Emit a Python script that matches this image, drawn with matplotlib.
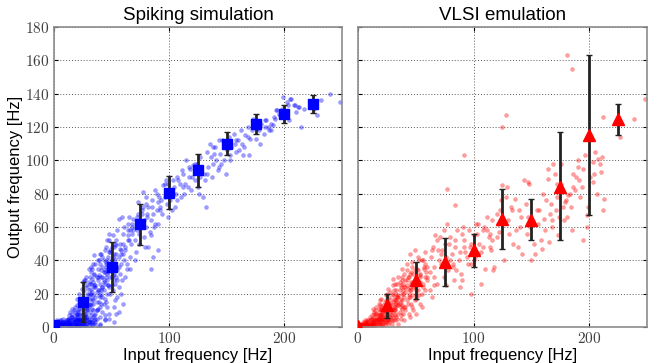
import matplotlib
matplotlib.use("Agg")
import matplotlib.pyplot as plt
from matplotlib.ticker import FuncFormatter

plt.rcParams['font.family'] = ['Liberation Sans', 'DejaVu Sans']
plt.rcParams['mathtext.fontset'] = 'cm'

# ---------------- Spiking simulation (left) ----------------
sim_x = [0,1,2,3,4,5,6,7,8,9,10,11,12,13,14,15,16,17,18,19,20,21,22,23,24,25,
         1,2,3,4,5,6,7,8,9,10,11,12,13,14,15,16,17,18,19,20,21,22,23,24,
         0.5,2.5,4.5,6.5,8.5,10.5,12.5,14.5,16.5,18.5,20.5,22.5,24.5,26,27,28,
         3,5,7,9,11,13,15,17,19,21,23,25,27,29,2,6,10,14,18,22,26,30,4,8,12,16,20,24,28,32,
         1,3,5,7,9,11,13,15,17,19,21,23,2,4,6,8,10,12,14,16,18,20,22,24,
         15,16,17,18,19,20,21,22,23,24,25,26,27,28,29,30,31,32,33,34,
         18,20,22,24,26,28,30,32,34,21,23,25,27,29,31,33,35,26,28,30,
         12,13,14,16,17,19,27,29,31,33,35,36,37,38,30,32,
         25,26,27,28,29,30,31,32,33,34,35,36,37,38,39,40,41,42,43,44,
         28,30,32,34,36,38,40,42,44,27,29,31,33,35,37,39,41,43,45,
         36,38,40,42,44,46,34,32,
         26,28,30,32,34,36,38,40,42,44,46,48,50,52,54,31,33,35,37,39,41,43,45,47,49,51,53,55,36,40,44,48,
         20,22,24,26,28,30,32,34,36,38,40,42,44,46,48,50,52,54,56,
         21,23,25,27,29,31,33,35,37,39,41,43,45,47,49,51,53,55,
         24,28,32,36,40,44,48,52,56,60,26,30,34,38,42,46,50,54,58,
         35,37,39,41,43,45,47,49,51,53,
         40,42,44,46,48,50,52,54,56,58,60,62,64,
         41,43,45,47,49,51,53,55,57,59,61,63,65,
         45,47,49,51,53,55,57,59,48,50,52,54,56,58,60,
         52,54,58,46,50,56,62,64,66,
         62,64,66,68,70,72,74,76,78,80,82,84,86,88,90,
         63,67,69,71,73,75,77,79,81,83,85,87,89,
         66,70,74,78,82,86,90,68,72,76,80,84,
         57,61,65,69,73,77,81,85,89,93,97,99,60,64,68,72,76,80,84,88,92,96,
         90,92,94,96,98,100,102,104,106,108,110,112,114,116,118,120,122,124,126,128,130,
         91,95,99,103,107,111,115,119,123,127,131,97,101,105,109,113,117,121,125,129,
         103,107,112,117,122,127,133,138,143,148,153,158,163,168,173,178,183,188,193,198,
         132,134,136,138,140,142,144,146,148,150,152,154,156,158,160,162,164,166,168,170,
         133,137,141,145,149,153,157,161,165,169,135,139,143,
         172,174,176,178,180,182,184,186,188,190,192,194,196,198,200,202,204,206,208,210,
         175,179,183,187,191,195,199,203,212,214,217,
         222,226,228,232,240,248,205,209,213]
sim_y = [0,1,0,2,1,0,3,1,2,0,1,3,0,2,4,1,0,3,2,1,4,0,2,3,1,5,
         2,0,3,1,4,2,0,3,1,4,2,0,3,1,2,4,1,0,3,5,2,4,0,2,
         3,4,0,1,3,2,1,0,3,2,0,1,4,1,3,0,
         1,2,1,3,0,2,1,3,1,2,4,2,1,4,1,4,3,2,5,3,6,3,3,2,5,6,8,4,2,5,
         1,0,2,3,2,1,4,3,0,2,1,5,2,3,1,5,3,4,2,6,4,7,5,7,
         6,8,5,9,7,6,10,8,7,11,9,6,12,8,10,5,9,7,11,6,
         12,13,11,14,13,15,12,14,10,4,5,3,4,2,3,1,4,7,5,3,
         5,7,9,11,10,4,8,6,13,3,7,2,5,0,1,0,
         18,22,16,25,20,27,17,23,29,19,32,24,21,28,15,26,30,18,22,33,
         13,19,26,14,18,35,12,24,17,28,11,30,21,25,10,31,20,14,36,
         8,11,6,9,4,12,2,36,
         5,10,14,20,16,25,22,18,30,26,32,24,40,28,36,26,35,31,10,19,34,27,39,25,46,31,41,28,3,1,5,8,
         17,20,23,15,30,22,33,27,38,30,44,24,46,28,52,34,44,49,42,
         9,13,27,17,24,20,17,24,15,22,14,33,30,42,30,22,16,34,
         2,6,3,5,2,7,5,3,9,14,28,35,38,40,36,20,48,30,46,
         43,30,40,44,40,38,35,45,38,50,
         38,42,34,40,45,30,48,52,36,44,50,46,55,
         22,28,48,25,36,55,26,58,32,66,40,35,52,
         15,33,20,42,38,18,47,28,56,40,32,44,24,38,56,
         12,8,20,52,25,65,30,62,58,
         48,58,42,60,52,66,56,70,64,60,72,55,68,62,75,
         38,50,65,45,75,63,81,48,66,57,76,60,70,
         35,40,50,54,48,42,46,62,58,68,74,35,
         50,60,66,58,68,72,68,72,80,76,82,86,44,52,56,62,60,78,64,82,70,86,
         62,72,68,78,74,82,70,84,80,88,78,92,86,84,95,90,88,98,80,96,92,
         78,85,66,88,76,94,100,82,93,102,88,88,76,72,86,80,90,97,84,78,
         80,90,84,96,98,90,92,108,112,108,100,112,110,114,125,118,120,122,130,126,
         72,96,102,98,108,94,104,112,100,106,114,108,116,105,112,118,103,115,120,113,
         105,90,100,98,92,103,110,106,108,103,110,104,96,
         118,123,119,121,122,116,124,120,118,121,125,130,127,131,128,135,124,137,133,129,
         113,110,124,118,126,128,138,133,132,120,131,
         135,131,127,136,140,135,137,133,132]

sim_mean_x = [0, 25, 50, 75, 100, 125, 150, 175, 200, 225]
sim_mean_y = [1, 15, 36, 61.5, 80.5, 94, 110, 122, 128, 134]
sim_err    = [1, 12, 15, 12.5, 10, 10, 7, 6, 5.5, 5.5]

# ---------------- VLSI emulation (right) ----------------
emu_x = [0,1,2,3,4,5,6,7,8,9,10,11,12,13,14,15,16,17,18,19,20,21,22,23,24,25,
         1,2,3,4,5,6,7,8,9,10,11,12,13,14,15,16,17,18,19,20,21,22,23,24,
         2,4,6,8,10,12,14,16,18,20,22,24,26,27,28,29,30,
         3,5,7,9,11,13,15,17,19,21,23,25,27,29,2,6,10,14,18,22,26,30,4,8,12,16,20,24,28,32,
         1,3,5,7,9,11,13,15,17,19,21,23,2,4,6,8,10,12,14,16,18,20,22,24,26,28,
         12,14,16,18,20,22,24,26,28,30,32,34,36,38,40,
         15,17,19,21,23,25,27,29,31,33,35,37,39,
         13,19,25,31,37,26,28,30,32,34,36,38,
         20,22,24,26,28,30,32,34,
         26,28,30,32,34,36,38,40,42,44,46,48,50,52,54,31,33,35,37,39,41,43,45,47,49,51,
         16,18,20,22,24,26,28,30,32,34,36,38,40,42,44,46,48,50,52,54,56,
         17,21,25,29,33,37,41,45,49,53,57,19,23,27,31,35,39,43,47,51,55,
         30,34,38,42,46,50,54,58,62,66,33,37,41,45,49,
         35,40,45,50,55,
         30,33,36,39,42,45,48,51,54,57,60,
         32,35,38,41,44,47,50,53,56,59,
         40,43,46,49,52,55,58,34,37,41,44,47,50,
         38,42,46,50,54,58,45,48,52,
         60,63,66,69,72,75,78,81,84,87,90,93,
         62,65,68,71,74,77,80,83,86,89,92,95,
         58,64,70,76,82,88,94,67,73,79,85,91,
         56,60,64,68,72,76,80,84,88,92,96,100,104,108,112,116,120,66,74,82,90,98,106,114,
         77,84,92,98,
         97,100,104,108,112,116,120,124,128,132,136,140,144,148,
         98,102,106,110,114,118,122,126,130,134,138,142,146,150,
         101,105,109,113,117,121,125,129,133,137,141,145,149,
         125,128,103,115,
         123,131,139,147,152,157,163,168,172,176,181,186,190,194,199,204,207,211,
         153,156,159,162,165,168,171,174,177,180,183,186,189,192,195,198,
         155,158,161,164,167,170,173,176,179,182,185,188,
         164,169,196,201,203,208,209,212,213,203,210,195,191,
         160,166,172,178,184,190,198,205,
         181,185,212,227,239,248,147]
emu_y = [0,0,1,0,2,1,0,2,1,3,2,1,4,2,3,1,5,2,4,3,6,2,5,4,3,7,
         1,2,0,1,0,3,1,4,2,0,5,3,1,6,2,4,7,3,5,1,4,8,2,6,
         0,3,2,0,4,1,5,0,2,7,1,9,5,3,8,2,6,
         1,1,3,1,2,3,3,5,2,5,3,4,6,4,1,2,1,3,6,3,2,4,2,1,2,8,5,10,4,7,
         0,2,1,1,4,2,1,4,5,7,4,6,1,0,4,3,6,5,8,2,9,11,10,9,12,6,
         7,9,8,11,10,13,12,15,11,14,10,13,9,16,12,
         10,5,13,9,15,8,18,7,17,6,19,5,8,
         11,16,20,22,24,10,13,19,4,8,15,11,
         12,6,16,4,21,9,12,18,
         14,9,15,11,18,14,20,24,16,20,14,24,18,26,32,10,16,13,17,26,12,23,32,19,34,25,
         12,14,17,11,19,23,16,20,26,15,22,28,18,25,30,33,27,30,22,31,26,
         3,8,6,11,14,12,21,18,24,19,36,7,10,14,12,18,22,30,39,35,40,
         29,26,30,34,26,20,27,30,33,25,20,25,28,22,46,
         2,4,6,8,12,
         25,22,27,20,28,24,32,26,30,35,28,
         16,30,13,24,18,36,22,40,24,33,
         32,14,27,16,42,20,38,5,7,10,8,12,17,
         35,38,22,28,14,22,44,10,34,
         36,42,30,46,38,50,34,44,52,40,56,45,
         22,48,26,54,30,62,40,28,58,32,48,38,
         45,18,40,25,36,24,42,55,46,50,34,60,
         40,30,46,52,44,42,54,48,45,52,58,40,62,48,58,64,54,36,58,38,28,50,45,56,
         83,73,103,20,
         48,55,44,58,66,52,68,76,78,72,77,60,88,86,
         38,62,26,35,48,36,57,40,64,50,48,44,56,40,
         42,50,60,54,34,62,85,84,70,58,66,74,60,
         120,127,56,46,
         70,56,70,66,50,70,76,64,78,86,66,92,100,84,72,92,80,102,
         44,62,47,58,51,60,70,66,72,76,80,84,90,78,95,67,
         70,52,65,95,74,92,55,98,75,79,58,82,
         89,98,103,90,99,101,98,70,77,87,93,52,88,
         80,68,86,64,72,96,60,105,
         163,155,126,114,125,137,87]

emu_mean_x = [0, 25, 50, 75, 100, 125, 150, 175, 200, 225]
emu_mean_y = [0.5, 13, 28, 39, 46, 65, 64, 84, 115.5, 125]
emu_err_lo = [0.5, 7.5, 11.5, 14.5, 10, 18, 12, 32, 48.5, 9.5]
emu_err_hi = [0.5, 7, 11, 14.5, 10, 18, 12.5, 33, 48, 9]

x_ticks = [0, 100, 200]
y_ticks = [0, 20, 40, 60, 80, 100, 120, 140, 160, 180]

fig = plt.figure(figsize=(6.6, 3.63), dpi=100)
ax1 = fig.add_axes([0.0818, 0.0992, 0.4364, 0.8264])
ax2 = fig.add_axes([0.5424, 0.0992, 0.4379, 0.8264])

fmt = FuncFormatter(lambda v, p: r'$%d$' % v)

for ax in (ax1, ax2):
    ax.set_xlim(0, 250)
    ax.set_ylim(0, 180)
    ax.set_xticks(x_ticks)
    ax.set_yticks(y_ticks)
    ax.xaxis.set_major_formatter(fmt)
    ax.yaxis.set_major_formatter(fmt)
    ax.grid(True, color='0.35', linestyle=(0, (1, 2)), linewidth=0.7)
    ax.set_axisbelow(True)
    ax.tick_params(direction='in', length=3, labelsize=11, colors='black',
                   labelcolor='0.25', top=True, right=True, pad=3)
    for s in ax.spines.values():
        s.set_color('0.55')
        s.set_linewidth(1.2)
    ax.set_xlabel('Input frequency [Hz]', fontsize=12, labelpad=1)

ax1.scatter(sim_x, sim_y, s=8, color='blue', alpha=0.38, linewidths=0.3, zorder=2)
ax1.errorbar(sim_mean_x, sim_mean_y, yerr=sim_err, fmt='s', color='blue',
             markersize=7.5, ecolor='#222222', elinewidth=2, capsize=2,
             capthick=1, zorder=3)
ax1.set_ylabel('Output frequency [Hz]', fontsize=12, labelpad=2)
ax1.set_title('Spiking simulation', fontsize=13.5, pad=5)

ax2.scatter(emu_x, emu_y, s=8, color='red', alpha=0.38, linewidths=0.3, zorder=2)
ax2.errorbar(emu_mean_x, emu_mean_y, yerr=[emu_err_lo, emu_err_hi], fmt='^',
             color='red', markersize=8, ecolor='#222222', elinewidth=2,
             capsize=2, capthick=1, zorder=3)
ax2.tick_params(labelleft=False)
ax2.set_title('VLSI emulation', fontsize=13.5, pad=5)

fig.savefig('out.png', dpi=100)
